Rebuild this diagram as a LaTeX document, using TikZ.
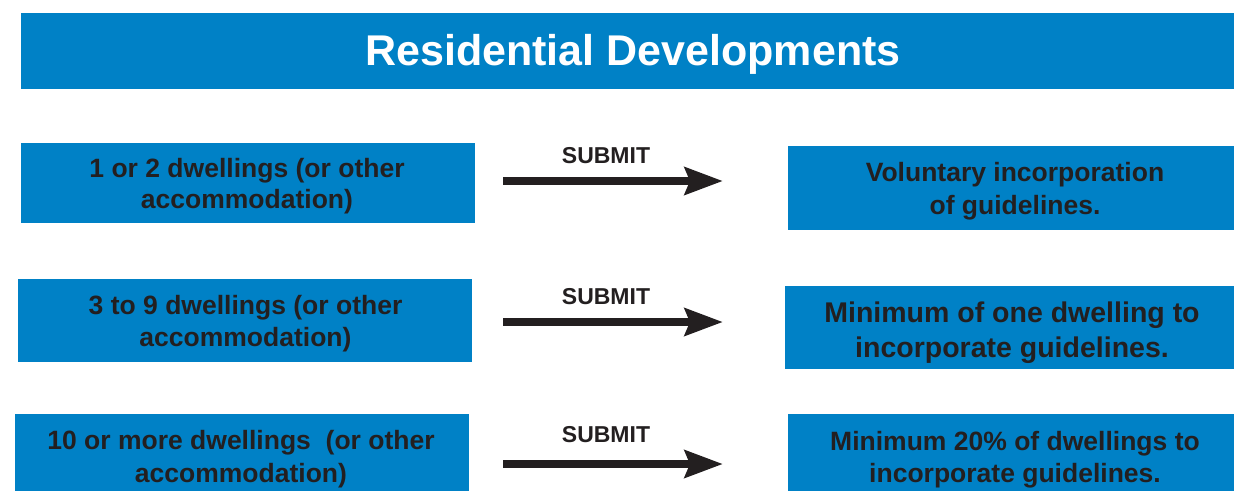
\documentclass[tikz,border=0pt]{standalone}
\usepackage{fontspec}
\setmainfont{Liberation Sans}
\usetikzlibrary{arrows.meta}
\definecolor{boxblue}{HTML}{0081C6}
\definecolor{ink}{HTML}{231F20}
\tikzset{
  bluebox/.style={fill=boxblue, draw=none, inner sep=0pt},
  boxtext/.style={text=ink, font=\bfseries, align=center, inner sep=0pt},
  submitlabel/.style={text=ink, font=\bfseries\fontsize{23}{26}\selectfont, inner sep=0pt},
  bigarrow/.style={draw=ink, line width=8.5pt, -{Stealth[length=38pt, width=27pt, inset=5pt]}}
}
\begin{document}
\begin{tikzpicture}[x=1pt,y=-1pt]
\useasboundingbox (0,0) rectangle (1234,491);
% title
\node[bluebox, minimum width=1213pt, minimum height=76pt] (title) at (627.5,51) {};
\node[text=white, font=\bfseries\fontsize{43}{48}\selectfont, inner sep=0pt] (titlet) at (633,54) {Residential Developments};
% left boxes
\node[bluebox, minimum width=454pt, minimum height=80pt] (L1) at (248,183) {};
\node[boxtext, font=\bfseries\fontsize{26.5}{31}\selectfont] (L1t) at (247,186.5) {1 or 2 dwellings (or other\\accommodation)};
\node[bluebox, minimum width=454pt, minimum height=83pt] (L2) at (245,320.5) {};
\node[boxtext, font=\bfseries\fontsize{26.5}{32}\selectfont] (L2t) at (245.5,324) {3 to 9 dwellings (or other\\accommodation)};
\node[bluebox, minimum width=454pt, minimum height=77pt] (L3) at (242,452.5) {};
\node[boxtext, font=\bfseries\fontsize{26.5}{33}\selectfont] (L3t) at (241,459) {10 or more dwellings\ \ (or other\\accommodation)};
% right boxes
\node[bluebox, minimum width=446pt, minimum height=84pt] (R1) at (1011,188) {};
\node[boxtext, font=\bfseries\fontsize{26.5}{33}\selectfont] (R1t) at (1015,191.5) {Voluntary incorporation\\of guidelines.};
\node[bluebox, minimum width=449pt, minimum height=83pt] (R2) at (1009.5,327.5) {};
\node[boxtext, font=\bfseries\fontsize{28.5}{35}\selectfont] (R2t) at (1012,332.5) {Minimum of one dwelling to\\incorporate guidelines.};
\node[bluebox, minimum width=446pt, minimum height=77pt] (R3) at (1011,452.5) {};
\node[boxtext, font=\bfseries\fontsize{26.5}{32}\selectfont] (R3t) at (1015,459.5) {Minimum 20\% of dwellings to\\incorporate guidelines.};
% arrows
\coordinate (a1s) at (503,181); \coordinate (a1e) at (723,181);
\coordinate (a2s) at (503,322); \coordinate (a2e) at (723,322);
\coordinate (a3s) at (503,464); \coordinate (a3e) at (723,464);
\draw[bigarrow] (a1s) -- (a1e);
\draw[bigarrow] (a2s) -- (a2e);
\draw[bigarrow] (a3s) -- (a3e);
\node[submitlabel] (s1) at (606,156) {SUBMIT};
\node[submitlabel] (s2) at (606,297) {SUBMIT};
\node[submitlabel] (s3) at (606,435) {SUBMIT};
\end{tikzpicture}
\end{document}
